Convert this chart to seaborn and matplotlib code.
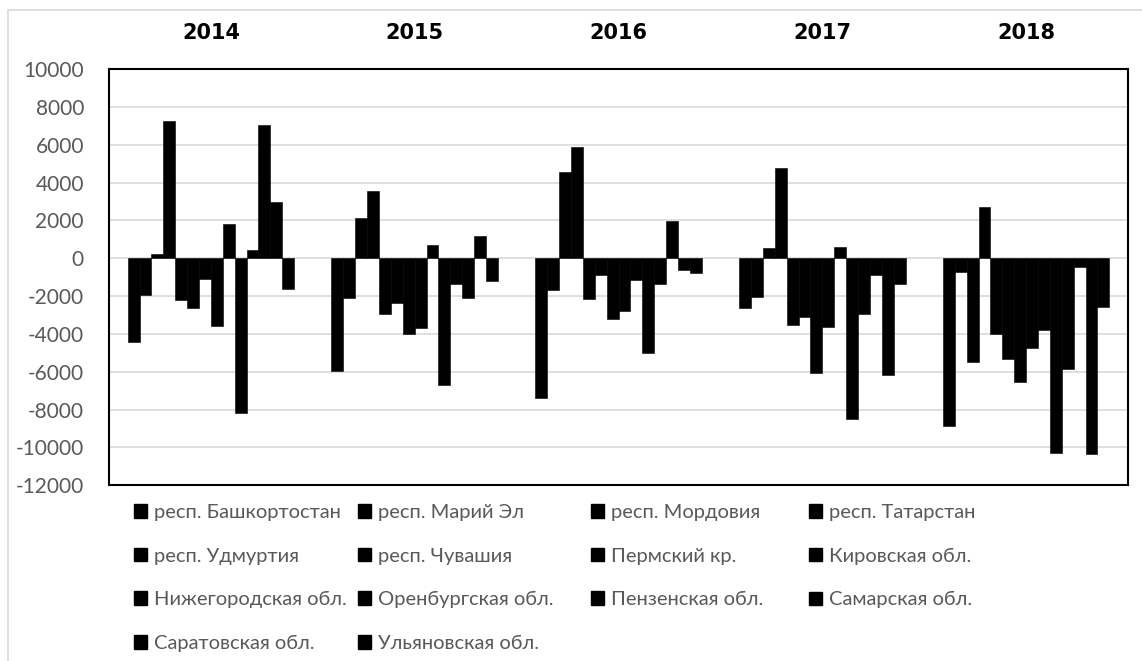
import matplotlib
matplotlib.use("Agg")
import matplotlib.pyplot as plt
import seaborn as sns
import pandas as pd
from matplotlib.patches import Rectangle, Patch

years = ["2014", "2015", "2016", "2017", "2018"]
regions = ["респ. Башкортостан", "респ. Марий Эл", "респ. Мордовия", "респ. Татарстан",
           "респ. Удмуртия", "респ. Чувашия", "Пермский кр.", "Кировская обл.",
           "Нижегородская обл.", "Оренбургская обл.", "Пензенская обл.", "Самарская обл.",
           "Саратовская обл.", "Ульяновская обл."]

v2014 = [-4450, -1950, 230, 7230, -2200, -2620, -1090, -3590, 1800, -8200, 420, 7060, 2960, -1600]
v2015 = [-5950, -2080, 2100, 3550, -2970, -2380, -4030, -3700, 720, -6690, -1370, -2080, 1200, -1200]
v2016 = [-7410, -1690, 4540, 5860, -2180, -860, -3220, -2800, -1160, -5000, -1350, 1990, -600, -770]
v2017 = [-2620, -2030, 530, 4770, -3550, -3130, -6050, -3610, 600, -8500, -2950, -910, -6180, -1340]
v2018 = [-8890, -720, -5510, 2730, -4010, -5350, -6530, -4720, -3770, -10310, -5840, -440, -10370, -2570]

values = {"2014": v2014, "2015": v2015, "2016": v2016, "2017": v2017, "2018": v2018}
rows = []
for y in years:
    for r, v in zip(regions, values[y]):
        rows.append({"year": y, "region": r, "value": v})
df = pd.DataFrame(rows)

sns.set_style("white")
plt.rcParams['font.family'] = ['Lato', 'DejaVu Sans']
plt.rcParams['axes.unicode_minus'] = False

W, H = 1142, 661
fig = plt.figure(figsize=(W/100, H/100), dpi=100)
ax = fig.add_axes([109/W, 1-485.3/H, (1128-109)/W, (485.3-69)/H])

palette = {r: "black" for r in regions}
sns.barplot(data=df, x="year", y="value", hue="region", order=years, hue_order=regions,
            palette=palette, width=0.817, gap=0, saturation=1, edgecolor="black",
            linewidth=0.4, ax=ax, legend=False)

ax.set_ylim(-12000, 10000)
ax.set_yticks(range(-12000, 10001, 2000))
ax.set_xlim(-0.5, 4.5)
ax.yaxis.grid(True, color="#d9d9d9", linewidth=1.2)
ax.set_axisbelow(True)
ax.set_xlabel("")
ax.set_ylabel("")
for s in ax.spines.values():
    s.set_visible(True)
    s.set_color("black")
    s.set_linewidth(1.5)

ax.xaxis.tick_top()
ax.tick_params(axis="x", length=0, pad=19, labelcolor="black")
for lab in ax.get_xticklabels():
    lab.set_fontweight("bold")
    lab.set_fontfamily(["DejaVu Sans"])
    lab.set_fontsize(15)
ax.tick_params(axis="y", length=0, pad=18, labelsize=15, labelcolor="#595959")

# legend: 4 columns, filled row by row
ncols = 4
col_x = [134, 358, 591, 809]
for c in range(ncols):
    idx = list(range(c, len(regions), ncols))
    hs = [Patch(facecolor="black", edgecolor="black") for _ in idx]
    fig.legend(hs, [regions[i] for i in idx], loc="upper left",
               bbox_to_anchor=(col_x[c]/W, 1-504/H), frameon=False,
               fontsize=14.5, labelcolor="#595959",
               handlelength=0.65, handleheight=0.65, handletextpad=0.35,
               labelspacing=1.32, borderaxespad=0, borderpad=0)

fig.patches.append(Rectangle((8/W, -0.1), 1.2, 1.1 - 10/H, transform=fig.transFigure,
                             fill=False, edgecolor="#d9d9d9", linewidth=1.2))

fig.savefig("out.png", dpi=100)
